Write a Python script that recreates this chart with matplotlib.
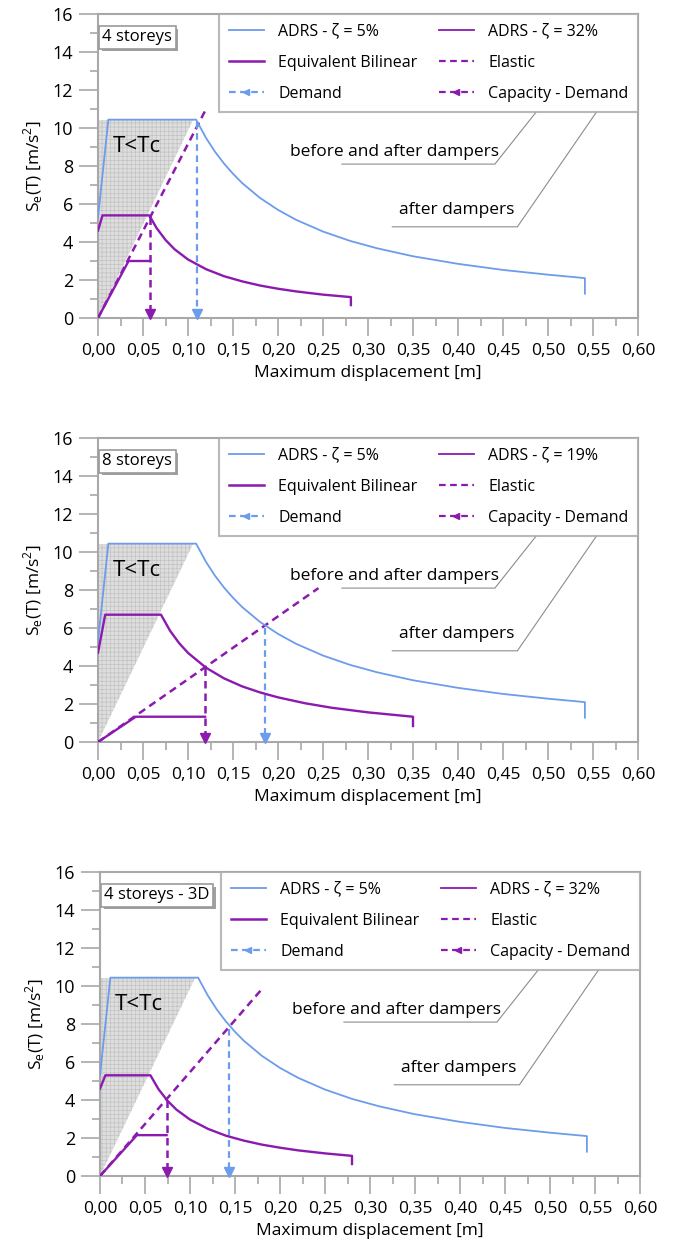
import numpy as np
import matplotlib
matplotlib.use("Agg")
from matplotlib import pyplot as plt
from matplotlib.lines import Line2D
from matplotlib.legend_handler import HandlerLine2D
from matplotlib import patheffects

plt.rcParams['font.family'] = ['Open Sans', 'DejaVu Sans']
plt.rcParams['hatch.linewidth'] = 0.5

BLUE = '#6C9CEB'
PURPLE = '#8B1AAE'
GREY = '#A8A8A8'

# ---------------- data ----------------
# ADRS zeta = 5% (same in every panel)
adrs5_x = [0.0, 0.0115, 0.109, 0.12, 0.13, 0.14, 0.15, 0.16, 0.18, 0.20, 0.22, 0.25,
           0.28, 0.31, 0.35, 0.40, 0.45, 0.50, 0.541, 0.541]
adrs5_y = [5.3, 10.44, 10.44, 9.48, 8.75, 8.13, 7.59, 7.11, 6.32, 5.69, 5.17, 4.55,
           4.06, 3.67, 3.25, 2.85, 2.53, 2.28, 2.10, 1.28]

# T < Tc region
tc_x = [0.0, 0.0, 0.106]
tc_y = [0.0, 10.44, 10.44]

# panel 1: 4 storeys
adrs_x_1 = [0.0, 0.005, 0.057, 0.065, 0.075, 0.085, 0.10, 0.12, 0.14, 0.16, 0.18, 0.20,
            0.22, 0.25, 0.281, 0.281]
adrs_y_1 = [4.6, 5.40, 5.40, 4.74, 4.11, 3.62, 3.08, 2.57, 2.20, 1.93, 1.71, 1.54,
            1.40, 1.23, 1.10, 0.68]
bilin_x_1 = [0.0, 0.034, 0.058]
bilin_y_1 = [0.0, 3.0, 3.0]
elastic_x_1 = [0.0, 0.119]
elastic_y_1 = [0.0, 10.9]
demand_1 = (0.110, 10.3)
capacity_1 = (0.058, 5.3)

# panel 2: 8 storeys
adrs_x_2 = [0.0, 0.008, 0.070, 0.08, 0.09, 0.10, 0.12, 0.14, 0.16, 0.18, 0.20, 0.23,
            0.26, 0.30, 0.35, 0.35]
adrs_y_2 = [4.7, 6.70, 6.70, 5.86, 5.21, 4.69, 3.91, 3.35, 2.93, 2.61, 2.35, 2.04,
            1.80, 1.56, 1.33, 0.84]
bilin_x_2 = [0.0, 0.042, 0.119]
bilin_y_2 = [0.0, 1.33, 1.33]
elastic_x_2 = [0.0, 0.245]
elastic_y_2 = [0.0, 8.1]
demand_2 = (0.185, 6.0)
capacity_2 = (0.119, 3.9)

# panel 3: 4 storeys - 3D
adrs_x_3 = [0.0, 0.006, 0.056, 0.065, 0.075, 0.085, 0.10, 0.12, 0.14, 0.16, 0.18, 0.20,
            0.22, 0.25, 0.28, 0.28]
adrs_y_3 = [4.6, 5.30, 5.30, 4.57, 3.96, 3.49, 2.97, 2.48, 2.12, 1.86, 1.65, 1.49,
            1.35, 1.19, 1.06, 0.63]
bilin_x_3 = [0.0, 0.041, 0.074]
bilin_y_3 = [0.0, 2.15, 2.15]
elastic_x_3 = [0.0, 0.181]
elastic_y_3 = [0.0, 9.9]
demand_3 = (0.143, 7.75)
capacity_3 = (0.074, 4.0)

titles = ['4 storeys', '8 storeys', '4 storeys - 3D']
zetas = ['32%', '19%', '32%']
x_ticks = np.arange(0, 0.601, 0.05)
y_ticks = np.arange(0, 17, 2)


class LeftMarkerHandler(HandlerLine2D):
    # put the arrow head at the left end of the legend line
    def get_xdata(self, legend, xdescent, ydescent, width, height, fontsize):
        xdata, _ = super().get_xdata(legend, xdescent, ydescent, width, height, fontsize)
        return xdata, np.array([xdata[0] + 2])


panels = [
    (adrs_x_1, adrs_y_1, bilin_x_1, bilin_y_1, elastic_x_1, elastic_y_1, demand_1, capacity_1),
    (adrs_x_2, adrs_y_2, bilin_x_2, bilin_y_2, elastic_x_2, elastic_y_2, demand_2, capacity_2),
    (adrs_x_3, adrs_y_3, bilin_x_3, bilin_y_3, elastic_x_3, elastic_y_3, demand_3, capacity_3),
]
axes_pos = [
    [98 / 674, 1 - 318 / 1250, 540 / 674, 304 / 1250],
    [98 / 674, 1 - 742 / 1250, 540 / 674, 304 / 1250],
    [100 / 674, 1 - 1176 / 1250, 540 / 674, 304 / 1250],
]

fig = plt.figure(figsize=(6.74, 12.5), dpi=100)

for i, (ax_x, ax_y, bx, by, ex, ey, dem, cap) in enumerate(panels):
    ax = fig.add_axes(axes_pos[i])
    ax.set_xlim(0, 0.6)
    ax.set_ylim(0, 16)

    ax.fill(tc_x, tc_y, facecolor='#dedede', edgecolor='#c2c2c2', hatch='++++',
            linewidth=0, zorder=1)
    ax.text(0.043, 9.0, 'T<Tc', fontsize=16, ha='center', va='center', zorder=2)

    ax.plot(adrs5_x, adrs5_y, color=BLUE, lw=1.3, zorder=4)
    ax.plot(ax_x, ax_y, color=PURPLE, lw=1.7, zorder=4)
    ax.plot(bx, by, color=PURPLE, lw=1.7, zorder=4)
    ax.plot(ex, ey, color=PURPLE, lw=1.8, dashes=(3, 2), zorder=3)

    # demand and capacity-demand arrows
    ax.plot([dem[0], dem[0]], [dem[1], 0.3], color=BLUE, lw=1.6, dashes=(3, 2), zorder=3)
    ax.plot([dem[0]], [0.2], marker='v', ms=7, color=BLUE, clip_on=False, zorder=5)
    ax.plot([cap[0], cap[0]], [cap[1], 0.3], color=PURPLE, lw=1.8, dashes=(3, 2), zorder=3)
    ax.plot([cap[0]], [0.2], marker='v', ms=7, color=PURPLE, clip_on=False, zorder=5)

    # callouts
    ax.text(0.329, 8.72, 'before and after dampers', fontsize=12.5, ha='center', va='center')
    ax.plot([0.271, 0.441, 0.487], [8.1, 8.1, 10.85], color='#8c8c8c', lw=0.8)
    ax.text(0.399, 5.7, 'after dampers', fontsize=12.5, ha='center', va='center')
    ax.plot([0.327, 0.466, 0.554], [4.8, 4.8, 10.85], color='#8c8c8c', lw=0.8)

    # title box
    t = ax.text(0.008, 0.95, titles[i], transform=ax.transAxes, fontsize=12,
                ha='left', va='top', zorder=6,
                bbox=dict(boxstyle='square,pad=0.2', fc='white', ec='#9a9a9a', lw=1.2))
    t.get_bbox_patch().set_path_effects([
        patheffects.withSimplePatchShadow(offset=(2, -2), shadow_rgbFace='#8a8a8a', alpha=0.8)])

    # legend
    handles = [
        Line2D([], [], color=BLUE, lw=1.3),
        Line2D([], [], color=PURPLE, lw=1.8),
        Line2D([], [], color=BLUE, lw=1.6, dashes=(3, 2), marker='<', ms=5),
        Line2D([], [], color=PURPLE, lw=1.3),
        Line2D([], [], color=PURPLE, lw=1.6, dashes=(3, 2)),
        Line2D([], [], color=PURPLE, lw=1.6, dashes=(3, 2), marker='<', ms=5),
    ]
    labels = ['ADRS - ζ = 5%', 'Equivalent Bilinear', 'Demand',
              'ADRS - ζ = ' + zetas[i], 'Elastic', 'Capacity - Demand']
    leg = ax.legend(handles, labels, ncol=2, loc='upper left', mode='expand',
                    bbox_to_anchor=(0.224, 0.0, 0.776, 1.0), borderaxespad=0,
                    fontsize=11.5, handlelength=2.2, handletextpad=0.9,
                    columnspacing=0.6, labelspacing=0.95, borderpad=0.6,
                    fancybox=False, frameon=True, numpoints=1,
                    handler_map={handles[2]: LeftMarkerHandler(),
                                 handles[5]: LeftMarkerHandler()})
    leg.get_frame().set_edgecolor(GREY)
    leg.get_frame().set_linewidth(1.5)
    leg.set_zorder(7)

    # axes styling
    for s in ax.spines.values():
        s.set_color(GREY)
        s.set_linewidth(1.5)
    ax.set_xticks(x_ticks)
    ax.set_xticklabels([f"{v:.2f}".replace('.', ',') for v in x_ticks])
    ax.set_xticks(np.arange(0.025, 0.6, 0.05), minor=True)
    ax.set_yticks(y_ticks)
    ax.set_yticks(np.arange(1, 16, 2), minor=True)
    ax.tick_params(axis='x', which='major', length=13, width=1.2, color=GREY,
                   labelsize=12.5, pad=5)
    ax.tick_params(axis='x', which='minor', length=6, width=1.2, color=GREY)
    ax.tick_params(axis='y', which='major', length=14, width=1.2, color=GREY,
                   labelsize=13, pad=4)
    ax.tick_params(axis='y', which='minor', length=6, width=1.2, color=GREY)
    ax.set_xlabel('Maximum displacement [m]', fontsize=12.5, labelpad=4)
    ax.set_ylabel(r'S$_\mathregular{e}$(T) [m/s$^\mathregular{2}$]', fontsize=12.5,
                  labelpad=5)

fig.savefig('out.png', dpi=100)
